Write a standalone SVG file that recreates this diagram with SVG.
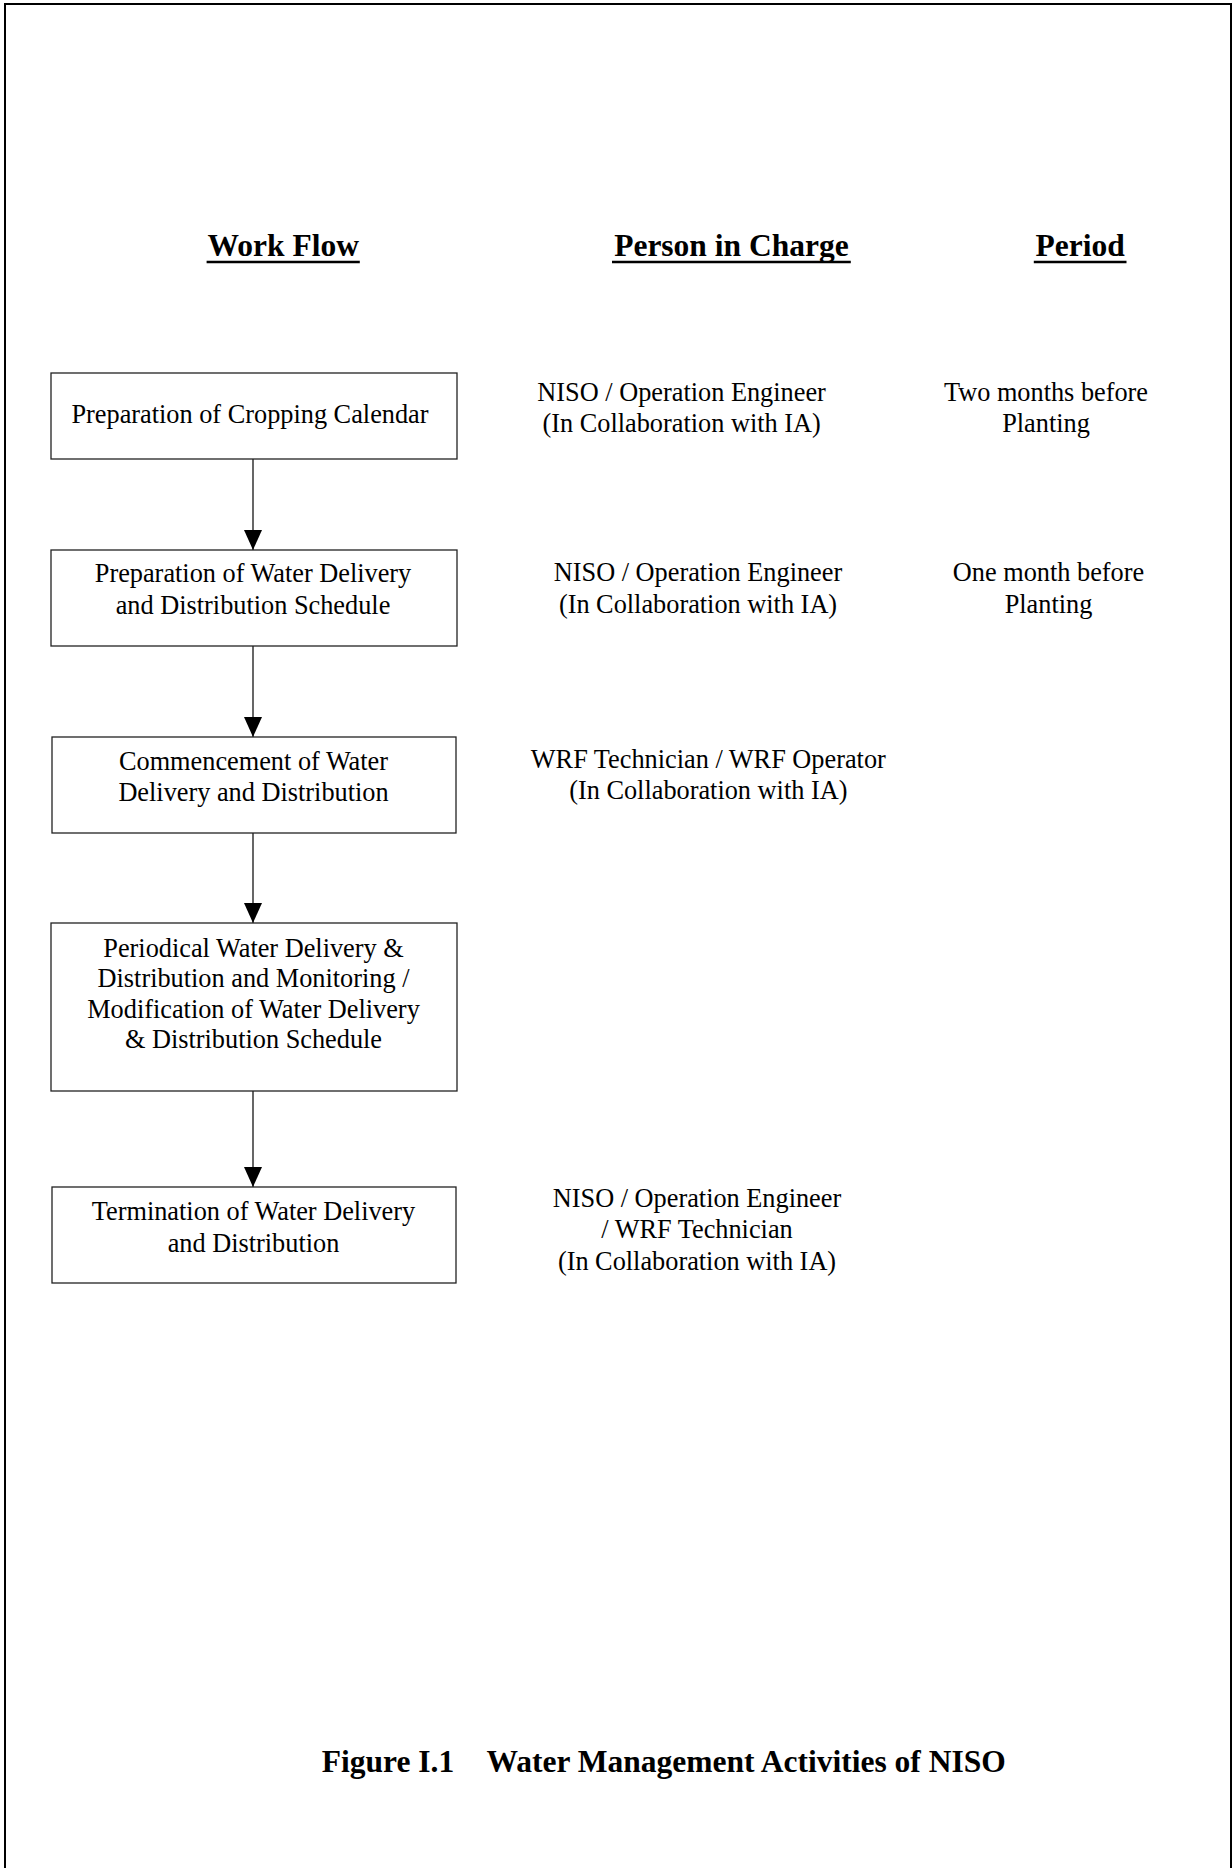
<svg xmlns="http://www.w3.org/2000/svg" width="1232" height="1868" viewBox="0 0 1232 1868">
  <style>
    text { font-family: "Liberation Serif", "Times New Roman", serif; fill: #000; }
    .lbl { font-size: 26.3px; text-anchor: middle; }
    .hdr { font-size: 31.5px; font-weight: bold; text-anchor: middle; }
    .cap { font-size: 31.5px; font-weight: bold; }
    .box { fill: #fff; stroke: #222; stroke-width: 1.3; }
    .ul { stroke: #000; stroke-width: 2.6; }
    .edge { stroke: #000; stroke-width: 1.2; fill: none; marker-end: url(#arrow); }
    .frame { stroke: #000; stroke-width: 2; fill: none; }
  </style>
  <defs>
    <marker id="arrow" markerUnits="userSpaceOnUse" markerWidth="20" markerHeight="18" viewBox="0 0 20 18" refX="20" refY="9" orient="auto">
      <path d="M0,0 L20,9 L0,18 z" fill="#000"/>
    </marker>
  </defs>

  <rect width="1232" height="1868" fill="#fff"/>

  <!-- page frame (open at the bottom) -->
  <path class="frame" d="M5,1868 V4 H1231 V1868"/>

  <!-- column headings -->
  <g id="headings">
    <text class="hdr" x="283.2" y="256">Work Flow</text>
    <line class="ul" x1="206.6" y1="262" x2="359.8" y2="262"/>
    <text class="hdr" x="731.4" y="256">Person in Charge</text>
    <line class="ul" x1="612" y1="262" x2="850.8" y2="262"/>
    <text class="hdr" x="1080.2" y="256">Period</text>
    <line class="ul" x1="1033.8" y1="262" x2="1126.5" y2="262"/>
  </g>

  <!-- connectors -->
  <g id="connectors">
    <line class="edge" x1="253" y1="459" x2="253" y2="550"/>
    <line class="edge" x1="253" y1="646" x2="253" y2="737"/>
    <line class="edge" x1="253" y1="833" x2="253" y2="923"/>
    <line class="edge" x1="253" y1="1091" x2="253" y2="1187"/>
  </g>

  <!-- work flow steps -->
  <g id="step1">
    <rect class="box" x="51" y="373" width="406" height="86"/>
    <text class="lbl" x="250" y="423">Preparation of Cropping Calendar</text>
  </g>
  <g id="step2">
    <rect class="box" x="51" y="550" width="406" height="96"/>
    <text class="lbl" x="253" y="582">Preparation of Water Delivery</text>
    <text class="lbl" x="253" y="614">and Distribution Schedule</text>
  </g>
  <g id="step3">
    <rect class="box" x="52" y="737" width="404" height="96"/>
    <text class="lbl" x="253.5" y="770">Commencement of Water</text>
    <text class="lbl" x="253.5" y="801">Delivery and Distribution</text>
  </g>
  <g id="step4">
    <rect class="box" x="51" y="923" width="406" height="168"/>
    <text class="lbl" x="253.5" y="957">Periodical Water Delivery &amp;</text>
    <text class="lbl" x="253.5" y="987">Distribution and Monitoring /</text>
    <text class="lbl" x="253.5" y="1017.5">Modification of Water Delivery</text>
    <text class="lbl" x="253.5" y="1048">&amp; Distribution Schedule</text>
  </g>
  <g id="step5">
    <rect class="box" x="52" y="1187" width="404" height="96"/>
    <text class="lbl" x="253.5" y="1220">Termination of Water Delivery</text>
    <text class="lbl" x="253.5" y="1252">and Distribution</text>
  </g>

  <!-- persons in charge -->
  <g id="person1">
    <text class="lbl" x="681.6" y="401">NISO / Operation Engineer</text>
    <text class="lbl" x="681.6" y="432">(In Collaboration with IA)</text>
  </g>
  <g id="person2">
    <text class="lbl" x="698" y="581">NISO / Operation Engineer</text>
    <text class="lbl" x="698" y="613">(In Collaboration with IA)</text>
  </g>
  <g id="person3">
    <text class="lbl" x="708.3" y="768">WRF Technician / WRF Operator</text>
    <text class="lbl" x="708.3" y="799">(In Collaboration with IA)</text>
  </g>
  <g id="person5">
    <text class="lbl" x="697" y="1207">NISO / Operation Engineer</text>
    <text class="lbl" x="697" y="1238">/ WRF Technician</text>
    <text class="lbl" x="697" y="1270">(In Collaboration with IA)</text>
  </g>

  <!-- periods -->
  <g id="period1">
    <text class="lbl" x="1046" y="401">Two months before</text>
    <text class="lbl" x="1046" y="432">Planting</text>
  </g>
  <g id="period2">
    <text class="lbl" x="1048.5" y="581">One month before</text>
    <text class="lbl" x="1048.5" y="613">Planting</text>
  </g>

  <!-- caption -->
  <g id="caption">
    <text class="cap" x="321.8" y="1772">Figure I.1</text>
    <text class="cap" x="486.6" y="1772">Water Management Activities of NISO</text>
  </g>
</svg>
